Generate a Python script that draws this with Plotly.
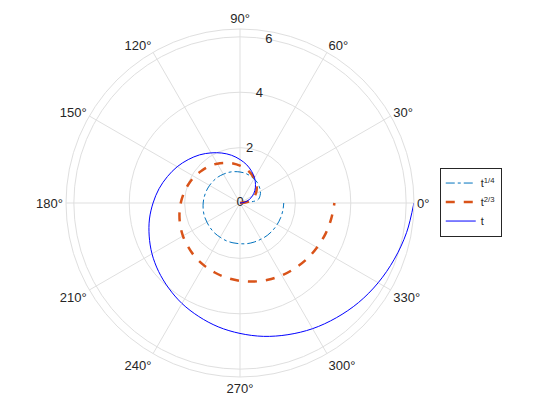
import plotly.graph_objects as go

theta_deg = [0, 10, 20, 30, 40, 50, 60, 70, 80, 90, 100, 110, 120, 130, 140, 150, 160, 170, 180,
             190, 200, 210, 220, 230, 240, 250, 260, 270, 280, 290, 300, 310, 320, 330, 340, 350, 360]

r_quarter = [0, 0.65, 0.77, 0.85, 0.91, 0.97, 1.01, 1.05, 1.09, 1.12, 1.15, 1.18, 1.20, 1.23, 1.25,
             1.27, 1.29, 1.31, 1.33, 1.35, 1.37, 1.38, 1.40, 1.42, 1.43, 1.45, 1.46, 1.47, 1.49,
             1.50, 1.51, 1.53, 1.54, 1.55, 1.56, 1.57, 1.58]

r_twothirds = [0, 0.31, 0.50, 0.65, 0.79, 0.91, 1.03, 1.14, 1.25, 1.35, 1.45, 1.54, 1.64, 1.73, 1.81,
               1.90, 1.98, 2.06, 2.14, 2.22, 2.30, 2.38, 2.45, 2.53, 2.60, 2.67, 2.74, 2.81, 2.88,
               2.95, 3.02, 3.08, 3.15, 3.21, 3.28, 3.34, 3.41]

r_linear = [0, 0.17, 0.35, 0.52, 0.70, 0.87, 1.05, 1.22, 1.40, 1.57, 1.75, 1.92, 2.09, 2.27, 2.44,
            2.62, 2.79, 2.97, 3.14, 3.32, 3.49, 3.67, 3.84, 4.01, 4.19, 4.36, 4.54, 4.71, 4.89,
            5.06, 5.24, 5.41, 5.59, 5.76, 5.93, 6.11, 6.28]

angle_ticks = [0, 30, 60, 90, 120, 150, 180, 210, 240, 270, 300, 330]
radial_ticks = [0, 2, 4, 6]
radial_label_angle = 80
r_max = 6.2832

font_family = "Liberation Sans, Arial, sans-serif"
text_color = "#262626"
grid_color = "#dfdfdf"

fig = go.Figure()
# radial tick labels, centred on the 80° ray as in the reference
fig.add_trace(go.Scatterpolar(r=radial_ticks, theta=[radial_label_angle] * len(radial_ticks),
                              mode="text", text=[str(v) for v in radial_ticks],
                              textposition="middle center",
                              textfont=dict(family=font_family, size=13, color=text_color),
                              showlegend=False, hoverinfo="skip"))
fig.add_trace(go.Scatterpolar(r=r_quarter, theta=theta_deg, mode="lines", name="t<sup>1/4</sup>",
                              line=dict(color="#0072BD", width=1, dash="dashdot", shape="spline")))
fig.add_trace(go.Scatterpolar(r=r_twothirds, theta=theta_deg, mode="lines", name="t<sup>2/3</sup>",
                              line=dict(color="#D95319", width=2.5, dash="dash", shape="spline")))
fig.add_trace(go.Scatterpolar(r=r_linear, theta=theta_deg, mode="lines", name="t",
                              line=dict(color="#0000FF", width=1, shape="spline")))

fig.update_layout(
    width=560, height=420,
    margin=dict(l=0, r=0, t=0, b=0),
    paper_bgcolor="white",
    font=dict(family=font_family, size=13, color=text_color),
    polar=dict(
        domain=dict(x=[0.1036, 0.725], y=[0.1214, 0.95]),
        bgcolor="white",
        angularaxis=dict(
            tickmode="array", tickvals=angle_ticks, ticktext=[f"{a}°" for a in angle_ticks],
            direction="counterclockwise", rotation=0,
            showgrid=True, gridcolor=grid_color, gridwidth=1,
            showline=True, linecolor=grid_color, linewidth=1,
            ticks="", tickfont=dict(size=13, color=text_color),
        ),
        radialaxis=dict(
            range=[0, r_max], tickmode="array", tickvals=radial_ticks,
            angle=radial_label_angle, showticklabels=False, showline=False, ticks="",
            showgrid=True, gridcolor=grid_color, gridwidth=1,
        ),
    ),
    legend=dict(
        x=0.771, y=0.538, xanchor="left", yanchor="middle",
        bgcolor="white", bordercolor="#262626", borderwidth=1,
        font=dict(size=11, color=text_color),
        itemwidth=30, tracegroupgap=0,
        entrywidth=86, entrywidthmode="pixels",
    ),
    showlegend=True,
)

fig.write_html("out.html")
